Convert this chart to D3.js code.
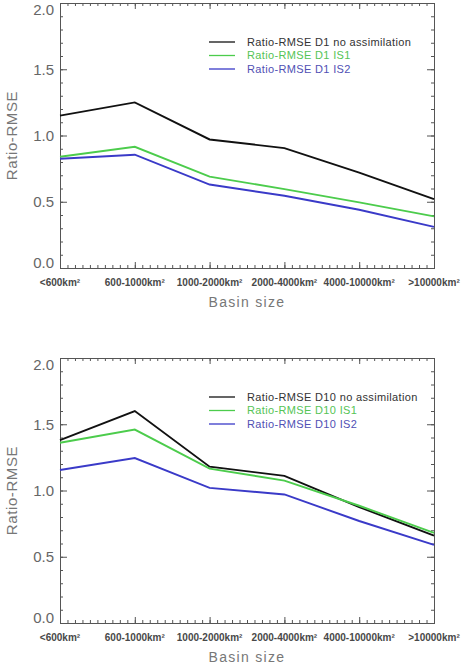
<!DOCTYPE html>
<html>
<head>
<meta charset="utf-8">
<script src="https://cdn.jsdelivr.net/npm/d3@7"></script>
<style>
	body { margin: 0; background: #fff; }
	svg { display: block; }
</style>
</head>
<body>
<div id="chart"></div>
<script>
// basin size classes (x axis)
const categories = ['<600km²', '600-1000km²', '1000-2000km²', '2000-4000km²', '4000-10000km²', '>10000km²'];
const yTicks = [0, 0.5, 1.0, 1.5, 2.0];

// panel 1 : D1
const d1NoAssim = [1.15, 1.25, 0.97, 0.905, 0.72, 0.52];
const d1IS1 = [0.84, 0.915, 0.69, 0.595, 0.495, 0.39];
const d1IS2 = [0.825, 0.855, 0.63, 0.545, 0.44, 0.31];

// panel 2 : D10
const d10NoAssim = [1.38, 1.60, 1.18, 1.11, 0.875, 0.66];
const d10IS1 = [1.36, 1.46, 1.165, 1.075, 0.885, 0.68];
const d10IS2 = [1.155, 1.245, 1.02, 0.97, 0.77, 0.59];

const colors = { none: '#111111', is1: '#4ccc4c', is2: '#3a3ac8' };
const textColors = { none: '#333333', is1: '#55c455', is2: '#5050b4' };

const width = 461, height = 671;
const svg = d3.select('#chart').append('svg')
	.attr('width', width)
	.attr('height', height);

function drawPanel(top, day, series) {
	let padding = { left: 60, right: 27, top: top, bottom: top + 265 };

	let x = d3.scalePoint()
		.domain(categories)
		.range([padding.left, width - padding.right]);
	let y = d3.scaleLinear()
		.domain([0, 2])
		.range([padding.bottom, padding.top]);

	let g = svg.append('g').classed('panel', true);

	// minor x ticks (10 per class interval)
	let xMinor = d3.scaleLinear().domain([0, categories.length - 1]).range(x.range());
	let xMinorTicks = d3.range(0, (categories.length - 1) * 10 + 1).map(i => i / 10);

	let axisBottom = d3.axisBottom(xMinor).tickValues(xMinorTicks).tickSize(-3).tickFormat('');
	let axisTop = d3.axisTop(xMinor).tickValues(xMinorTicks).tickSize(-3).tickFormat('');
	let majorBottom = d3.axisBottom(x).tickSize(-6).tickFormat('');
	let majorTop = d3.axisTop(x).tickSize(-6).tickFormat('');

	let yMinorTicks = d3.range(0, 21).map(i => i / 10);
	let axisLeft = d3.axisLeft(y).tickValues(yMinorTicks).tickSize(-3).tickFormat('');
	let axisRight = d3.axisRight(y).tickValues(yMinorTicks).tickSize(-3).tickFormat('');
	let majorLeft = d3.axisLeft(y).tickValues(yTicks).tickSize(-7).tickFormat('');
	let majorRight = d3.axisRight(y).tickValues(yTicks).tickSize(-7).tickFormat('');

	[[axisBottom, 0, padding.bottom], [majorBottom, 0, padding.bottom],
	 [axisTop, 0, padding.top], [majorTop, 0, padding.top],
	 [axisLeft, padding.left, 0], [majorLeft, padding.left, 0],
	 [axisRight, width - padding.right, 0], [majorRight, width - padding.right, 0]]
		.forEach(([ax, tx, ty]) => {
			let a = g.append('g')
				.attr('transform', `translate(${tx}, ${ty})`)
				.call(ax);
			a.selectAll('line').attr('stroke', '#555').attr('stroke-width', 1);
			a.select('.domain').attr('stroke', '#555').attr('stroke-width', 1);
		});

	// y tick labels
	g.selectAll('.ylabel')
		.data(yTicks)
		.enter()
		.append('text')
		.attr('class', 'ylabel')
		.attr('x', padding.left - 6)
		.attr('y', d => {
			let v = y(d);
			if (d === 2) v += 7;
			if (d === 0) v -= 5;
			return v;
		})
		.attr('dy', '0.36em')
		.attr('text-anchor', 'end')
		.attr('fill', '#666')
		.attr('font-family', 'Liberation Sans, Arial, sans-serif')
		.attr('font-size', '15px')
		.text(d => d.toFixed(1));

	// x tick labels
	g.selectAll('.xlabel')
		.data(categories)
		.enter()
		.append('text')
		.attr('class', 'xlabel')
		.attr('x', d => x(d))
		.attr('y', padding.bottom + 18)
		.attr('text-anchor', 'middle')
		.attr('fill', '#484848')
		.attr('font-family', 'Liberation Sans, Arial, sans-serif')
		.attr('font-size', '10px')
		.attr('font-weight', '600')
		.text(d => d);

	// axis titles
	g.append('text')
		.attr('x', (padding.left + width - padding.right) / 2)
		.attr('y', padding.bottom + 39)
		.attr('text-anchor', 'middle')
		.attr('fill', '#777')
		.attr('font-family', 'Liberation Sans, Arial, sans-serif')
		.attr('font-size', '14px')
		.attr('letter-spacing', '1.3px')
		.text('Basin size');

	g.append('text')
		.attr('transform', `translate(17, ${(padding.top + padding.bottom) / 2}) rotate(-90)`)
		.attr('text-anchor', 'middle')
		.attr('fill', '#777')
		.attr('font-family', 'Liberation Sans, Arial, sans-serif')
		.attr('font-size', '15px')
		.attr('letter-spacing', '0.6px')
		.text('Ratio-RMSE');

	// lines
	let line = d3.line()
		.x((d, i) => x(categories[i]))
		.y(d => y(d));

	g.selectAll('.series')
		.data(series)
		.enter()
		.append('path')
		.attr('class', 'series')
		.attr('d', d => line(d.values))
		.attr('fill', 'none')
		.attr('stroke', d => colors[d.key])
		.attr('stroke-width', 1.9);

	// legend
	let legend = g.selectAll('.legend')
		.data(series)
		.enter()
		.append('g')
		.attr('class', 'legend')
		.attr('transform', (d, i) => `translate(209, ${padding.top + 39 + i * 13.5})`);

	legend.append('line')
		.attr('x1', 0)
		.attr('x2', 26)
		.attr('y1', 0)
		.attr('y2', 0)
		.attr('stroke', d => colors[d.key])
		.attr('stroke-width', 1.3);

	legend.append('text')
		.attr('x', 38)
		.attr('y', 0)
		.attr('dy', '0.35em')
		.attr('fill', d => textColors[d.key])
		.attr('font-family', 'Liberation Sans, Arial, sans-serif')
		.attr('font-size', '11px')
		.attr('letter-spacing', '0.35px')
		.text(d => d.label);
}

drawPanel(3, 'D1', [
	{ key: 'none', label: 'Ratio-RMSE D1 no assimilation', values: d1NoAssim },
	{ key: 'is1', label: 'Ratio-RMSE D1 IS1', values: d1IS1 },
	{ key: 'is2', label: 'Ratio-RMSE D1 IS2', values: d1IS2 }
]);

drawPanel(358, 'D10', [
	{ key: 'none', label: 'Ratio-RMSE D10 no assimilation', values: d10NoAssim },
	{ key: 'is1', label: 'Ratio-RMSE D10 IS1', values: d10IS1 },
	{ key: 'is2', label: 'Ratio-RMSE D10 IS2', values: d10IS2 }
]);
</script>
</body>
</html>
